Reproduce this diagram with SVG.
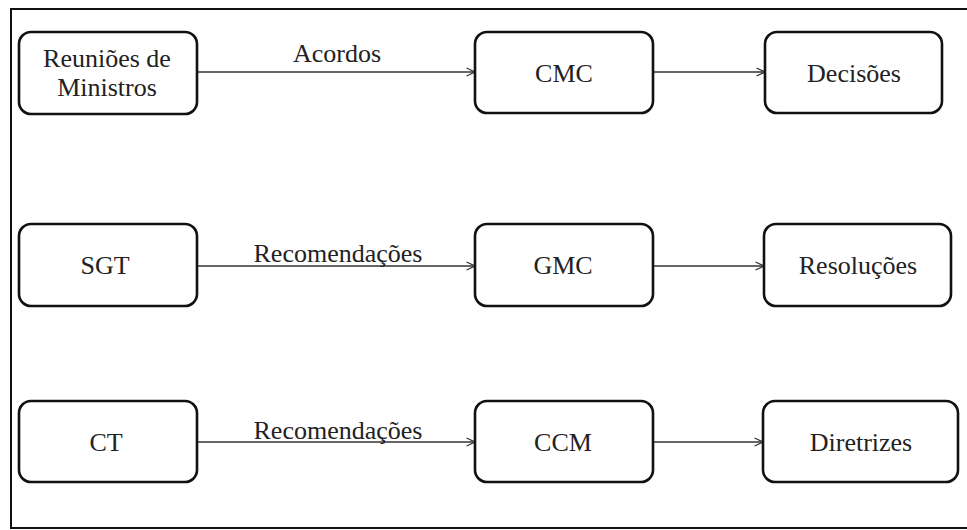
<svg xmlns="http://www.w3.org/2000/svg" width="967" height="530" viewBox="0 0 967 530">
<style>
  .frame{fill:none;stroke:#111;stroke-width:2}
  .box{fill:#fff;stroke:#111;stroke-width:2.6}
  .t{font-size:26px;fill:#222;text-anchor:middle}
  .edge{stroke:#333;stroke-width:1.3;fill:none;marker-end:url(#arr)}
</style>
<defs>
  <marker id="arr" viewBox="0 0 10 10" refX="9.5" refY="5" markerWidth="10" markerHeight="10" markerUnits="userSpaceOnUse" orient="auto">
    <path d="M1,1 L9.5,5 L1,9" fill="none" stroke="#333" stroke-width="1.3"/>
  </marker>
</defs>
<rect width="967" height="530" fill="#fff"/>
<rect class="frame" x="11" y="9" width="975" height="519"/>
<g font-family="Liberation Serif, Times New Roman, serif">
<g id="connectors">
  <line class="edge" x1="197" y1="72" x2="475" y2="72"/>
  <line class="edge" x1="653" y1="72" x2="765" y2="72"/>
  <line class="edge" x1="197" y1="266" x2="475" y2="266"/>
  <line class="edge" x1="653" y1="266" x2="764" y2="266"/>
  <line class="edge" x1="197" y1="442" x2="475" y2="442"/>
  <line class="edge" x1="653" y1="442" x2="763" y2="442"/>
  <text class="t" x="337" y="62">Acordos</text>
  <text class="t" x="338" y="262">Recomendações</text>
  <text class="t" x="338" y="439">Recomendações</text>
</g>

<g id="reunioes">
  <rect class="box" x="19" y="32" width="178" height="82" rx="12"/>
  <text class="t" x="107" y="67">Reuniões de</text>
  <text class="t" x="107" y="96">Ministros</text>
</g>
<g id="cmc">
  <rect class="box" x="475" y="32" width="178" height="81" rx="12"/>
  <text class="t" x="564" y="82">CMC</text>
</g>
<g id="decisoes">
  <rect class="box" x="765" y="32" width="177" height="81" rx="12"/>
  <text class="t" x="854" y="82">Decisões</text>
</g>

<g id="sgt">
  <rect class="box" x="19" y="224" width="178" height="82" rx="12"/>
  <text class="t" x="105" y="274">SGT</text>
</g>
<g id="gmc">
  <rect class="box" x="475" y="224" width="178" height="82" rx="12"/>
  <text class="t" x="563" y="274">GMC</text>
</g>
<g id="resolucoes">
  <rect class="box" x="764" y="224" width="187" height="82" rx="12"/>
  <text class="t" x="858" y="274">Resoluções</text>
</g>

<g id="ct">
  <rect class="box" x="19" y="401" width="178" height="81" rx="12"/>
  <text class="t" x="106" y="451">CT</text>
</g>
<g id="ccm">
  <rect class="box" x="475" y="401" width="178" height="81" rx="12"/>
  <text class="t" x="563" y="451">CCM</text>
</g>
<g id="diretrizes">
  <rect class="box" x="763" y="401" width="195" height="81" rx="12"/>
  <text class="t" x="861" y="451">Diretrizes</text>
</g>
</g>
</svg>
